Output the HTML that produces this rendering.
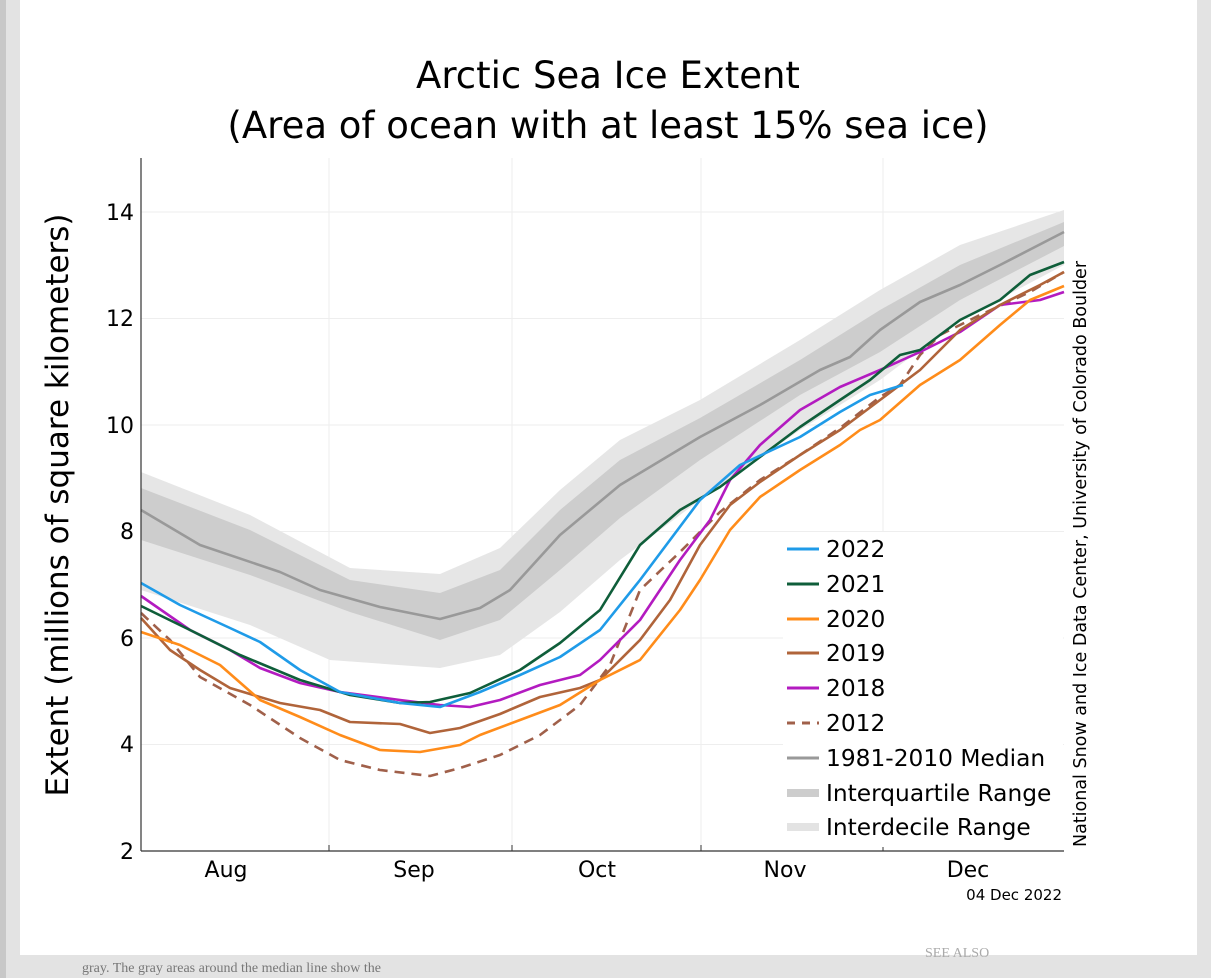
<!DOCTYPE html>
<html><head><style>
body{margin:0;background:#e3e3e3;width:1211px;height:978px;overflow:hidden;font-family:"DejaVu Sans","Liberation Sans",sans-serif;}
</style></head><body>
<svg width="1211" height="978" xmlns="http://www.w3.org/2000/svg" style="position:absolute;left:0;top:0">
<rect x="0" y="0" width="1211" height="978" fill="#e3e3e3"/>
<rect x="0" y="0" width="6" height="978" fill="#c8c8c8"/>
<rect x="20" y="0" width="1177" height="955" fill="#fff"/>
<text x="82" y="972" font-family="Liberation Serif,serif" font-size="14" fill="#777">gray. The gray areas around the median line show the</text>
<text x="925" y="957" font-family="Liberation Serif,serif" font-size="14" fill="#aaa">SEE ALSO</text>
<g font-family="DejaVu Sans,sans-serif">
<text x="608" y="88" font-size="37" text-anchor="middle">Arctic Sea Ice Extent</text>
<text x="608" y="138" font-size="37" text-anchor="middle">(Area of ocean with at least 15% sea ice)</text>
<g stroke="#eee" stroke-width="1">
<line x1="141" x2="1064" y1="212" y2="212"/><line x1="141" x2="1064" y1="318.5" y2="318.5"/><line x1="141" x2="1064" y1="425" y2="425"/><line x1="141" x2="1064" y1="531.5" y2="531.5"/><line x1="141" x2="1064" y1="638" y2="638"/><line x1="141" x2="1064" y1="744.5" y2="744.5"/>
<line x1="329" x2="329" y1="158" y2="851"/><line x1="512" x2="512" y1="158" y2="851"/><line x1="701" x2="701" y1="158" y2="851"/><line x1="883" x2="883" y1="158" y2="851"/>
</g>
<polygon fill="#e6e6e6" points="141,472 250,515 350,568 440,574 500,548 560,490 620,440 700,400 800,340 880,290 960,245 1064,210 1064,265 960,320 880,380 800,430 700,500 620,560 560,612 500,655 440,668 330,660 250,625 141,590"/>
<polygon fill="#cdcdcd" points="141,488 250,530 350,580 440,593 500,570 560,510 620,460 700,418 800,360 880,310 960,265 1064,222 1064,246 960,300 880,352 800,395 700,460 620,518 560,570 500,620 440,640 350,612 250,575 141,540"/>
<g fill="none" stroke-width="2.6" stroke-linejoin="round">
<polyline stroke="#999" points="141,510 200,545 280,572 320,590 380,607 440,619 480,608 510,590 560,535 620,485 700,437 760,405 820,370 850,357 880,330 920,302 960,285 1000,265 1064,232"/>
<polyline stroke="#a0604a" stroke-dasharray="10,7" points="141,613 170,640 200,677 250,705 300,738 340,760 380,770 430,776 460,768 500,755 540,735 580,705 610,665 640,590 680,552 720,512 760,480 800,455 840,428 880,397 900,385 920,355 940,335 980,315 1030,292 1064,272"/>
<polyline stroke="#b31bc0" points="141,596 190,630 230,650 260,668 300,683 340,692 400,700 440,705 470,707 500,700 540,685 580,675 600,660 640,620 680,560 710,520 730,480 760,445 800,410 840,387 880,370 920,352 960,332 1000,305 1040,300 1064,292"/>
<polyline stroke="#b0643a" points="141,618 170,650 200,670 230,688 280,703 320,710 350,722 400,724 430,733 460,728 500,714 540,697 580,688 600,680 640,640 670,600 700,545 730,505 760,482 800,455 840,430 880,400 920,370 940,350 960,330 1000,305 1040,285 1064,272"/>
<polyline stroke="#ff8c1a" points="141,632 180,645 220,665 260,700 300,717 340,735 380,750 420,752 460,745 480,735 520,720 560,705 600,680 640,660 680,610 700,580 730,530 760,497 800,470 840,445 860,430 880,420 920,385 960,360 1000,325 1030,300 1064,286"/>
<polyline stroke="#0f5e3a" points="141,606 190,630 240,655 300,680 350,695 400,703 430,702 470,693 520,670 560,643 600,610 640,545 680,510 720,487 760,457 800,427 840,400 870,380 900,355 920,350 960,320 1000,300 1030,275 1064,262"/>
<polyline stroke="#1f9be8" points="141,583 180,605 230,628 260,642 300,670 340,692 400,703 440,707 480,692 520,675 560,657 600,630 640,580 700,500 740,465 800,437 840,412 870,395 903,385"/>
</g>
<line x1="141" y1="158" x2="141" y2="851" stroke="#333" stroke-width="1.2"/>
<line x1="141" y1="851" x2="1064" y2="851" stroke="#333" stroke-width="1.2"/>
<g stroke="#333"><line x1="329" x2="329" y1="845" y2="851"/><line x1="512" x2="512" y1="845" y2="851"/><line x1="701" x2="701" y1="845" y2="851"/><line x1="883" x2="883" y1="845" y2="851"/></g>
<g font-size="22" text-anchor="end">
<text x="134" y="220">14</text><text x="134" y="326">12</text><text x="134" y="433">10</text><text x="134" y="539">8</text><text x="134" y="646">6</text><text x="134" y="752">4</text><text x="134" y="859">2</text>
</g>
<g font-size="22" text-anchor="middle">
<text x="226" y="877">Aug</text><text x="414" y="877">Sep</text><text x="597" y="877">Oct</text><text x="785" y="877">Nov</text><text x="968" y="877">Dec</text>
</g>
<text x="1062" y="900" font-size="15" text-anchor="end">04 Dec 2022</text>
<text transform="translate(68,505) rotate(-90)" font-size="31" text-anchor="middle">Extent (millions of square kilometers)</text>
<text transform="translate(1086,554) rotate(-90)" font-size="17.5" text-anchor="middle">National Snow and Ice Data Center, University of Colorado Boulder</text>
<rect x="783" y="532" width="280" height="315" fill="#fff"/>
<g stroke-width="3">
<line x1="787" x2="819" y1="549" y2="549" stroke="#1f9be8"/>
<line x1="787" x2="819" y1="584" y2="584" stroke="#0f5e3a"/>
<line x1="787" x2="819" y1="619" y2="619" stroke="#ff8c1a"/>
<line x1="787" x2="819" y1="653" y2="653" stroke="#b0643a"/>
<line x1="787" x2="819" y1="688" y2="688" stroke="#b31bc0"/>
<line x1="787" x2="819" y1="723" y2="723" stroke="#a0604a" stroke-dasharray="8,7"/>
<line x1="787" x2="819" y1="758" y2="758" stroke="#999"/>
<line x1="787" x2="819" y1="793" y2="793" stroke="#cdcdcd" stroke-width="8"/>
<line x1="787" x2="819" y1="827" y2="827" stroke="#e3e3e3" stroke-width="8"/>
</g>
<g font-size="23.3">
<text x="826" y="557">2022</text><text x="826" y="592">2021</text><text x="826" y="627">2020</text><text x="826" y="661">2019</text><text x="826" y="696">2018</text><text x="826" y="731">2012</text><text x="826" y="766">1981-2010 Median</text><text x="826" y="801">Interquartile Range</text><text x="826" y="835">Interdecile Range</text>
</g>
</g>
</svg>
</body></html>
